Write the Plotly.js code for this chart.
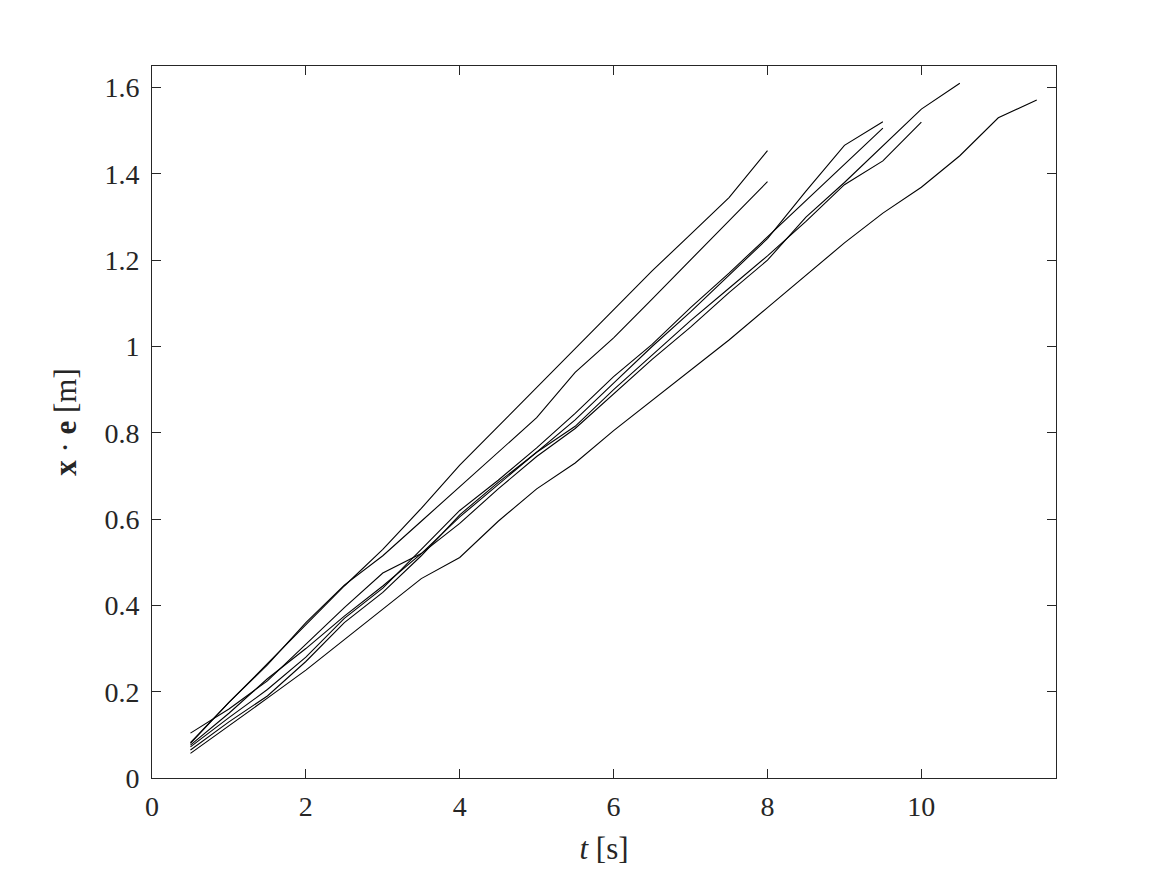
<!DOCTYPE html>
<html>
<head>
<meta charset="utf-8">
<script src="https://cdn.plot.ly/plotly-3.0.1.min.js"></script>
<style>html,body{margin:0;padding:0;background:#fff;}#plot{width:1167px;height:875px;}</style>
</head>
<body>
<div id="plot"></div>
<script>
const tA = [0.5,1,1.5,2,2.5,3,3.5,4,4.5,5,5.5,6,6.5,7,7.5,8];
const yA = [0.08,0.175,0.265,0.355,0.445,0.53,0.625,0.725,0.815,0.905,0.995,1.085,1.175,1.26,1.345,1.454];
const tB = [0.5,1,1.5,2,2.5,3,3.5,4,4.5,5,5.5,6,6.5,7,7.5,8];
const yB = [0.082,0.175,0.262,0.36,0.447,0.515,0.595,0.675,0.755,0.835,0.94,1.02,1.11,1.2,1.29,1.382];
const tC = [0.5,1,1.5,2,2.5,3,3.5,4,4.5,5,5.5,6,6.5,7,7.5,8,8.5,9,9.5];
const yC = [0.104,0.16,0.225,0.31,0.395,0.475,0.52,0.605,0.68,0.755,0.83,0.915,1.0,1.08,1.165,1.25,1.36,1.466,1.521];
const tD = [0.5,1,1.5,2,2.5,3,3.5,4,4.5,5,5.5,6,6.5,7,7.5,8,8.5,9,9.5];
const yD = [0.072,0.14,0.205,0.28,0.37,0.44,0.53,0.62,0.69,0.765,0.845,0.93,1.005,1.09,1.17,1.254,1.338,1.42,1.506];
const tE = [0.5,1,1.5,2,2.5,3,3.5,4,4.5,5,5.5,6,6.5,7,7.5,8,8.5,9,9.5,10];
const yE = [0.065,0.13,0.19,0.27,0.36,0.43,0.515,0.61,0.685,0.755,0.815,0.9,0.98,1.06,1.135,1.21,1.29,1.375,1.43,1.52];
const tF = [0.5,1,1.5,2,2.5,3,3.5,4,4.5,5,5.5,6,6.5,7,7.5,8,8.5,9,9.5,10,10.5];
const yF = [0.076,0.15,0.23,0.3,0.375,0.445,0.52,0.59,0.67,0.745,0.81,0.89,0.97,1.045,1.125,1.2,1.3,1.38,1.465,1.55,1.61];
const tG = [0.5,1,1.5,2,2.5,3,3.5,4,4.5,5,5.5,6,6.5,7,7.5,8,8.5,9,9.5,10,10.5,11,11.5];
const yG = [0.057,0.12,0.185,0.25,0.32,0.39,0.462,0.511,0.595,0.67,0.73,0.805,0.875,0.945,1.015,1.09,1.165,1.24,1.309,1.369,1.442,1.53,1.571];

const xTicks = [0,2,4,6,8,10];
const xTickText = ['0','2','4','6','8','10'];
const yTicks = [0,0.2,0.4,0.6,0.8,1,1.2,1.4,1.6];
const yTickText = ['0','0.2','0.4','0.6','0.8','1','1.2','1.4','1.6'];

const series = [[tA,yA],[tB,yB],[tC,yC],[tD,yD],[tE,yE],[tF,yF],[tG,yG]];
const traces = series.map(s => ({
  x: s[0], y: s[1], type: 'scatter', mode: 'lines',
  line: {color: '#000000', width: 1.1}, showlegend: false, hoverinfo: 'skip'
}));

const fam = '"Liberation Serif", "DejaVu Serif", serif';
const fnt = {family: fam, size: 28, color: '#262626'};
const axisCommon = {
  showgrid: false, zeroline: false, showline: true, linecolor: '#262626', linewidth: 1,
  mirror: 'ticks', ticks: 'inside', ticklen: 9, tickwidth: 1, tickcolor: '#262626',
  tickfont: fnt
};
const layout = {
  width: 1167, height: 875,
  margin: {l: 152, r: 111, t: 66, b: 97},
  paper_bgcolor: '#ffffff', plot_bgcolor: '#ffffff',
  font: fnt,
  xaxis: Object.assign({}, axisCommon, {
    range: [0, 11.75], tickmode: 'array', tickvals: xTicks, ticktext: xTickText,
    ticklabelstandoff: 3,
    title: {text: '<i>t</i> [s]', font: {family: fam, size: 31, color: '#262626'}, standoff: 16}
  }),
  yaxis: Object.assign({}, axisCommon, {
    range: [0, 1.65], tickmode: 'array', tickvals: yTicks, ticktext: yTickText,
    ticklabelstandoff: 6,
    title: {text: '<b>x</b> · <b>e</b> [m]', font: {family: fam, size: 31, color: '#262626'}, standoff: 18}
  })
};
Plotly.newPlot('plot', traces, layout, {staticPlot: true, displayModeBar: false});
</script>
</body>
</html>
